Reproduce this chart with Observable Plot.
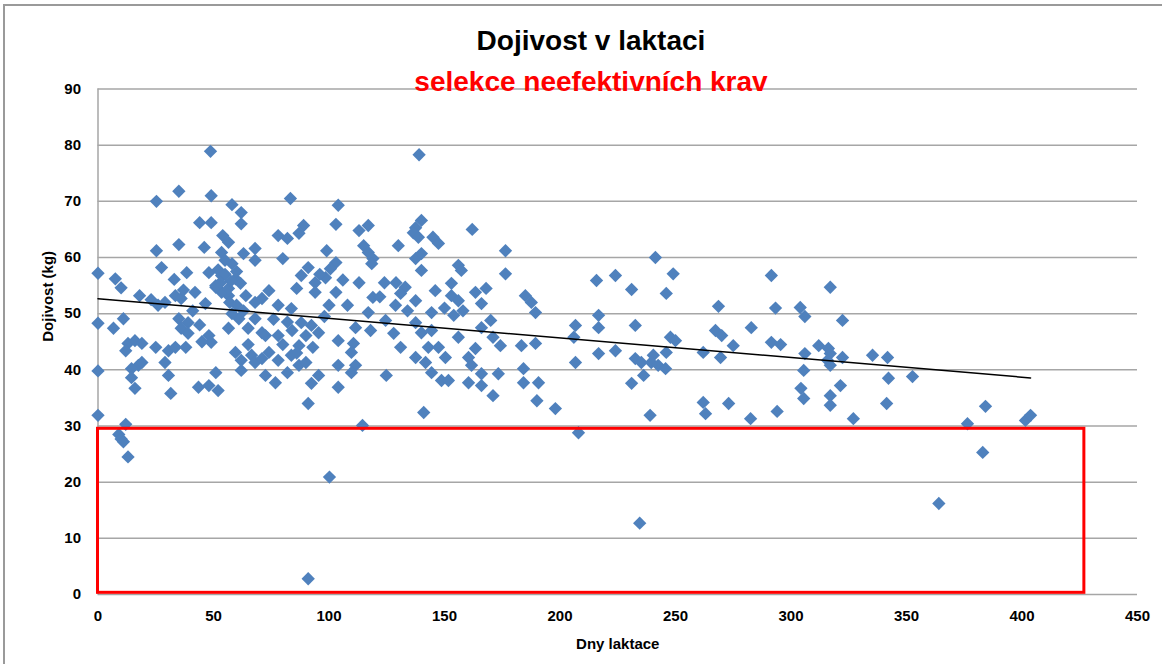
<!DOCTYPE html>
<html>
<head>
<meta charset="utf-8">
<script src="https://cdn.jsdelivr.net/npm/d3@7"></script>
<script src="https://cdn.jsdelivr.net/npm/@observablehq/plot@0.6"></script>
<style>
  body { margin: 0; background: #fff; }
  #wrap { position: relative; width: 1162px; height: 664px; overflow: hidden; font-family: "Liberation Sans", Arial, sans-serif; }
  #frame { position: absolute; left: 3px; top: 4px; width: 1200px; height: 700px; border-top: 2px solid #9a9a9a; border-left: 2px solid #9a9a9a; }
  #chart { position: absolute; left: 0; top: 0; }
  .ttl { position: absolute; left: 0; width: 1182px; text-align: center; font-weight: bold; font-size: 28px; line-height: 28px; white-space: nowrap; }
  #title { top: 27px; color: #000; }
  #subtitle { top: 68px; color: #ff0000; }
</style>
</head>
<body>
<div id="wrap">
  <div id="frame"></div>
  <div id="chart"></div>
  <div id="title" class="ttl">Dojivost v laktaci</div>
  <div id="subtitle" class="ttl">selekce neefektivních krav</div>
</div>
<script>
// Days in lactation (x) and milk yield in kg (y)
const days = [
  0, 0, 0, 0, 7.5, 10, 6.7, 11, 12, 9, 10, 11, 13,
  18, 26, 29, 33.5, 36, 42, 46.5, 35, 39, 36, 39, 13, 16, 19, 12, 25, 30.5, 33.5, 38, 29, 17.5, 14.5, 19, 14.5, 16, 30.5, 31.5, 43.5, 48, 52, 51, 48, 49, 56.5, 59.5, 62, 62, 66.5, 68, 72.5, 71, 65, 61, 56.5, 53.5, 51, 68, 71, 68,
  48.7, 35, 25.3, 49, 58, 62, 44, 49, 62, 54, 56.5, 46, 35, 25.3, 53.5, 63, 68, 68, 58, 55, 27.5, 38.4, 33, 48, 53.5, 59.5, 51, 61.7, 56.5, 37,
  139, 83.3, 104, 103, 113, 117, 89, 87, 78, 82, 115, 117, 119, 118.5, 99, 130, 137.5, 140, 136.5, 138.7, 145, 80, 137.5, 140, 140, 91, 88, 94, 103, 100.6, 98.5, 113, 124, 129, 133, 74, 103, 146,
  78, 83.7, 94, 119, 128.8, 131, 137.5, 144.4, 117, 111.5, 118, 124.5, 137.5, 140, 88, 92.4, 90, 95.5, 104, 87, 72.5, 78, 74, 71, 78, 83.7, 87, 90, 76.8, 95.5, 92.4, 104, 110.6, 109.7, 111.5, 109.7, 104, 124.8, 131, 137.5, 141.8, 143, 144.4, 91, 141, 114.5,
  162, 147.4, 176.4, 156, 157.3, 176.4, 215.8, 153, 168, 163.4, 185,
  153, 156, 166, 187.6, 189.4, 154, 144.4, 156, 166, 170, 171, 174.2, 183.3, 189.4, 206.7, 206, 216.7, 216.7, 216.7, 147.4, 150.4, 163.4, 160.4, 161.7, 166, 173.3, 148.7, 151.7, 160.4, 166, 171, 184.2, 184.2, 190.7, 190, 198, 206.7, 208,
  241.3, 224, 249, 231, 246, 291.5, 268.6, 293.3, 304, 306, 232.6, 267.3, 270, 282.8, 247.8, 250, 275, 291.5, 295.5, 312, 224, 232.6, 240.4, 246, 235.2, 239.5, 242.5, 245.7, 236.2, 262, 269.5, 306, 305.5, 231, 304.3, 305.5, 262, 263, 273, 294, 239, 282.5,
  317, 322.3, 316.2, 317, 315.8, 322.3, 317, 335.3, 341.8, 342.2, 352.6, 321.4, 317, 317, 341.4, 327, 384.2, 376.4, 401.5, 403.7, 383,
  91, 100.2, 234.5, 364,
  52, 55, 57.5, 60, 53, 57, 60, 63, 58, 64, 86, 96, 106, 84, 93, 86, 82, 80, 82, 98, 108, 122, 134, 128, 44, 41, 45, 23, 65, 76, 100, 150, 158
];
const milkKg = [
  57.2, 48.3, 39.8, 31.9, 56.2, 54.6, 47.4, 49.1, 30.3, 28.5, 27.7, 27.2, 24.5,
  53.2, 51.5, 52, 53.2, 52.7, 53.8, 51.8, 49.1, 48.4, 47.4, 46.5, 44.7, 45.2, 44.7, 43.4, 44, 43.4, 44, 44, 41.3, 40.8, 40.2, 41.3, 38.6, 36.7, 39, 35.8, 36.9, 37.2, 36.3, 39.5, 46.1, 44.9, 47.4, 43.1, 41.7, 39.9, 42.6, 41.3, 39, 46.6, 47.4, 49.1, 53.2, 53.8, 54.7, 52, 52.7, 49.1,
  78.9, 71.8, 70, 71, 69.4, 68, 66.2, 66.2, 66, 63.9, 62.7, 61.8, 62.3, 61.2, 60.9, 60.7, 61.6, 59.5, 58.9, 59.5, 58.2, 57.3, 56.1, 57.3, 56.8, 56.2, 55, 55.4, 54.5, 54.2,
  78.3, 70.5, 69.3, 65.9, 64.8, 65.7, 65.7, 64.3, 63.9, 63.4, 62.1, 60.9, 59.8, 58.9, 61.2, 62.1, 65.3, 66.6, 64.4, 63.6, 63.6, 59.8, 59.8, 60.7, 57.7, 58.2, 56.8, 55.5, 59.1, 58, 56.4, 55.5, 55.5, 55.5, 54.7, 54.1, 53.8, 54.1,
  51.5, 50.9, 53.8, 52.9, 51.5, 53.6, 52.3, 50.2, 50.2, 47.5, 47, 48.8, 48.4, 46.6, 48.4, 47.9, 46.1, 46.6, 45.2, 44.3, 46.1, 46.1, 43.1, 42, 41.7, 42.6, 40.8, 41.3, 37.7, 39, 37.6, 40.8, 44.7, 43.1, 40.8, 39.5, 36.9, 39, 44, 42.2, 41.3, 44, 39.5, 34, 32.4, 30.1,
  65, 62.5, 61.2, 58.6, 57.7, 57.1, 55.9, 55.4, 54.5, 53.8, 53.2,
  53.2, 52.3, 51.8, 52, 50.2, 49.7, 47, 45.8, 47.5, 48.8, 45.8, 44.3, 44.3, 44.7, 47.9, 45.8, 49.7, 47.5, 42.9, 44, 42.2, 43.8, 42.2, 40.8, 39.3, 39.3, 38.1, 38.1, 37.7, 37.2, 35.4, 40.2, 37.7, 37.7, 34.5, 33.1, 41.3, 28.8,
  60, 56.8, 57.1, 54.3, 53.6, 56.8, 51.3, 51, 51.1, 49.5, 47.9, 47, 46.1, 47.5, 45.8, 45.2, 44.3, 44.9, 44.5, 44.3, 43.4, 42, 42.6, 43.1, 41.3, 41.3, 40.8, 40.2, 39, 43.1, 42.2, 42.9, 39.9, 37.6, 36.7, 34.9, 34.2, 32.2, 34, 32.6, 31.9, 31.3,
  54.7, 48.8, 43.8, 42.9, 41.7, 42.2, 40.8, 42.6, 42.2, 38.5, 38.8, 37.2, 35.4, 33.7, 34, 31.3, 33.5, 30.4, 31, 31.9, 25.3,
  2.8, 20.9, 12.7, 16.2,
  57.8, 57, 55.8, 57.5, 55.5, 52, 51.5, 50.5, 50, 53.2, 54.5, 57, 56, 47, 44, 43, 39.5, 44.5, 48.5, 49.5, 51.5, 53, 50.5, 46.5, 48, 50.5, 45, 52.5, 44.5, 49, 51.5, 51, 50.5
];
// Axis ticks
const xTicks = [0, 50, 100, 150, 200, 250, 300, 350, 400, 450];
const yTicks = [0, 10, 20, 30, 40, 50, 60, 70, 80, 90];
// Highlighted selection zone (ineffective cows), in data units
const selX = [0, 427];
const selY = [0.3, 29.5];

const points = days.map((d, i) => ({day: d, kg: milkKg[i]}));
const selection = [{x1: selX[0], x2: selX[1], y1: selY[0], y2: selY[1]}];

const chart = Plot.plot({
  width: 1162,
  height: 664,
  marginLeft: 97.5,
  marginRight: 25,
  marginTop: 88.5,
  marginBottom: 70,
  x: {domain: [0, 450]},
  y: {domain: [0, 90]},
  style: {fontFamily: "'Liberation Sans', Arial, sans-serif", fontSize: "15px", fontWeight: "bold", background: "transparent", color: "#000"},
  marks: [
    Plot.ruleY(yTicks, {stroke: "#a6a6a6", strokeWidth: 1.5}),
    Plot.ruleX([0], {stroke: "#a6a6a6", strokeWidth: 1.5}),
    Plot.axisY(yTicks, {tickSize: 0, tickPadding: 17, label: null, fontWeight: "bold", fontSize: 15}),
    Plot.axisX(xTicks, {tickSize: 0, tickPadding: 16, label: null, fontWeight: "bold", fontSize: 15}),
    Plot.dot(points, {x: "day", y: "kg", symbol: "diamond2", r: 6, fill: "#4F81BD", stroke: "none"}),
    Plot.linearRegressionY(points, {x: "day", y: "kg", stroke: "#000", strokeWidth: 1.5, ci: 0}),
    Plot.rect(selection, {x1: "x1", x2: "x2", y1: "y1", y2: "y2", fill: "none", stroke: "#ff0000", strokeWidth: 3}),
    Plot.text(["Dojivost (kg)"], {frameAnchor: "left", dx: -50, rotate: -90, fontWeight: "bold", fontSize: 15}),
    Plot.text(["Dny laktace"], {frameAnchor: "bottom", dy: 54, fontWeight: "bold", fontSize: 15})
  ]
});
document.getElementById("chart").appendChild(chart);
</script>
</body>
</html>
